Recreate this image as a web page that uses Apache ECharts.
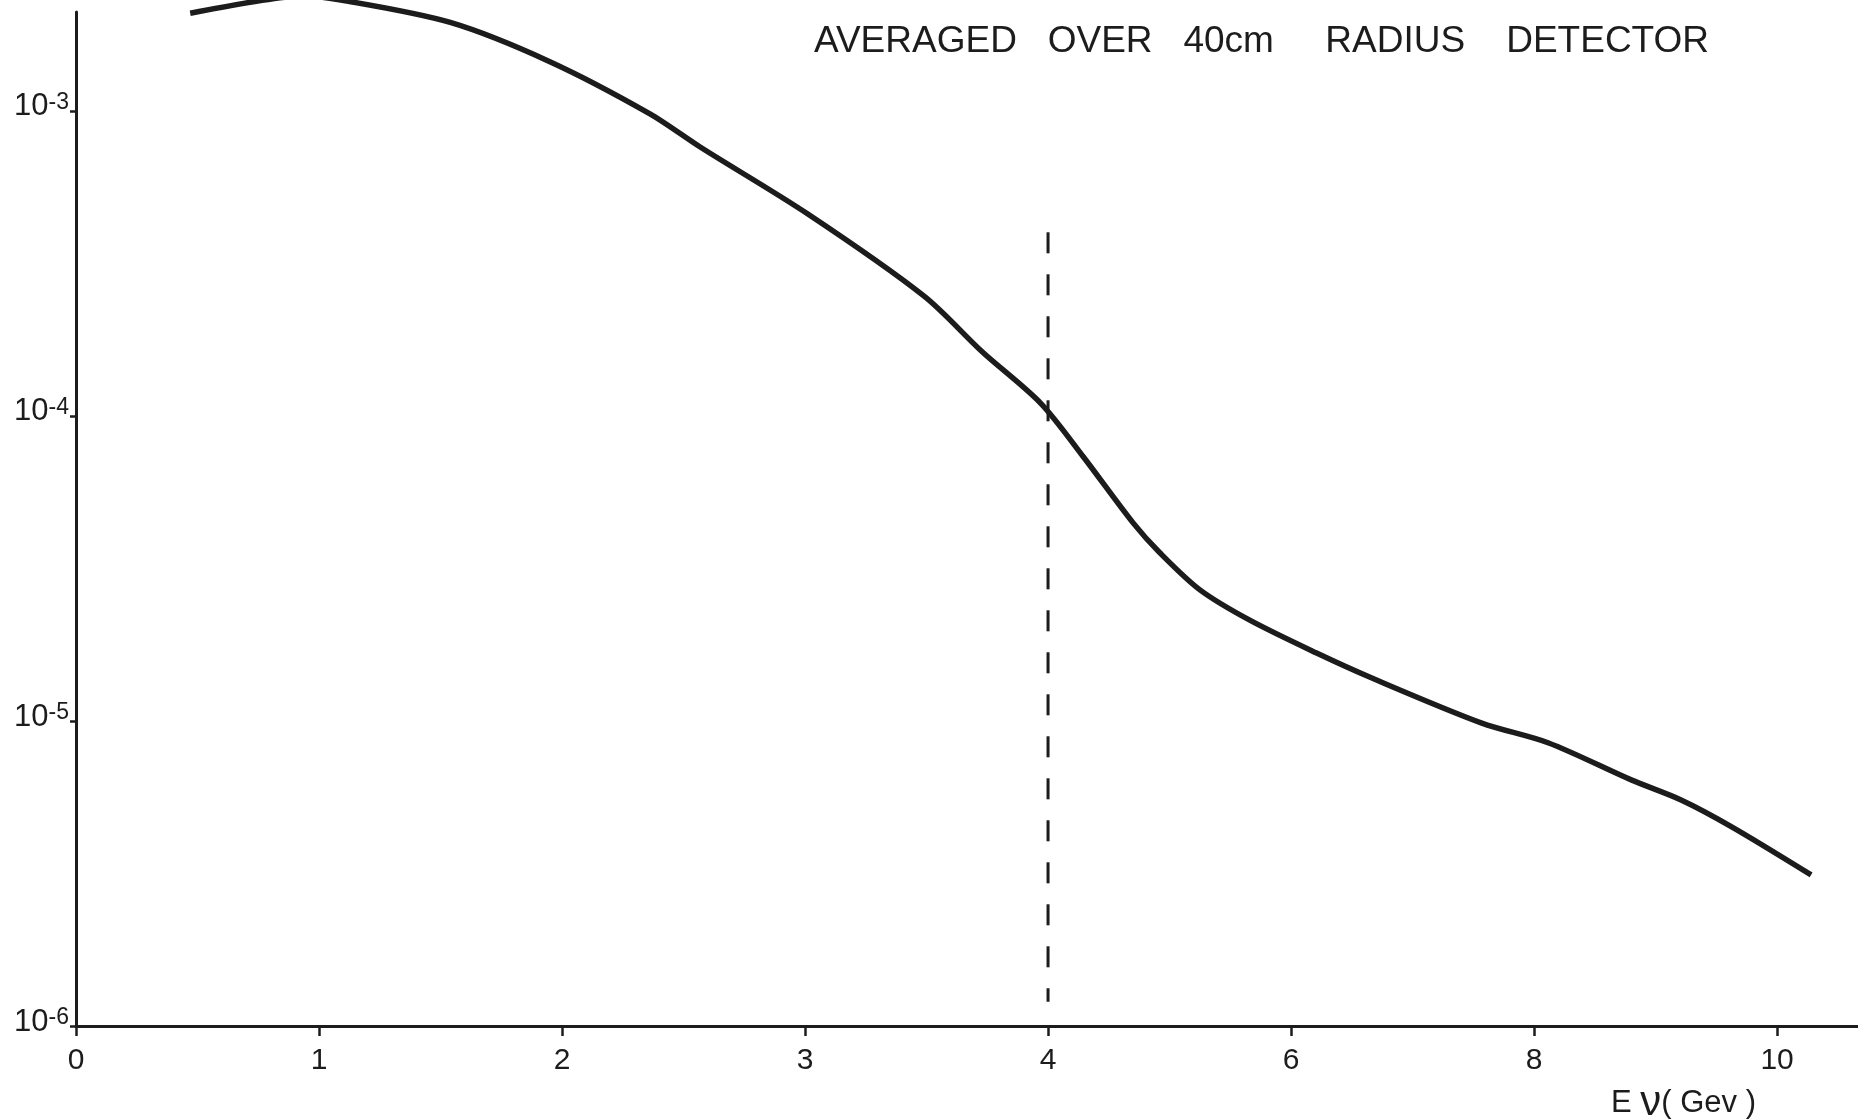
<!DOCTYPE html>
<html>
<head>
<meta charset="utf-8">
<title>Averaged over 40cm radius detector</title>
<script src="https://cdn.jsdelivr.net/npm/echarts@6/dist/echarts.min.js"></script>
<style>
  html, body { margin: 0; padding: 0; background: #fff; }
  #chart { width: 1858px; height: 1119px; }
</style>
</head>
<body>
<div id="chart"></div>
<script>
// Neutrino energy (GeV) and flux
const energy = [0.47, 0.76, 0.93, 1.09, 1.54, 1.95, 2.36, 2.57, 3.01, 3.49, 3.73, 3.97,
  4.29, 4.70, 4.92, 5.25, 5.66, 6.21, 6.67, 7.57, 8.12, 8.80, 9.21, 9.63, 10.28];
const flux = [2.09e-3, 2.30e-3, 2.38e-3, 2.31e-3, 1.95e-3, 1.45e-3, 9.8e-4, 7.6e-4, 4.6e-4, 2.47e-4, 1.62e-4, 1.10e-4,
  7.35e-5, 4.46e-5, 3.56e-5, 2.69e-5, 2.14e-5, 1.67e-5, 1.38e-5, 9.84e-6, 8.47e-6, 6.41e-6, 5.51e-6, 4.49e-6, 3.13e-6];

// dashed cut at 4 GeV
const cutEnergy = [4, 4];
const cutFlux = [4.0e-4, 1.2e-6];

// tick labels
const xTickLabels = [0, 1, 2, 3, 4, 6, 8, 10];
const yTickValues = [1e-6, 1e-5, 1e-4, 1e-3];

// the x scale doubles its step after 4 GeV: 0..4 by 1, then 4..10 by 2
function toAxis(e) {
  return e <= 4 ? e : 4 + (e - 4) / 2;
}

const font = "'Liberation Sans', Arial, sans-serif";
const ink = '#1c1c1c';

const chart = echarts.init(document.getElementById('chart'), null, { renderer: 'canvas' });

chart.setOption({
  animation: false,
  backgroundColor: '#fff',
  title: [
    {
      text: 'AVERAGED   OVER   40cm     RADIUS    DETECTOR',
      left: 814,
      top: 23,
      padding: 0,
      textStyle: { fontFamily: font, fontSize: 37, fontWeight: 'normal', color: ink }
    },
    {
      text: '{a|E }{n|ν}{a|( Gev )}',
      left: 1611,
      top: 1082,
      padding: 0,
      textStyle: {
        fontWeight: 'normal',
        rich: {
          a: { fontFamily: font, fontSize: 31, fontWeight: 'normal', color: ink },
          n: { fontFamily: font, fontSize: 42, fontWeight: 'normal', color: ink }
        }
      }
    }
  ],
  grid: { left: 76, right: 0, top: 12, bottom: 93 },
  xAxis: {
    type: 'value',
    min: 0,
    max: 7.333,
    splitLine: { show: false },
    axisLine: { onZero: false, lineStyle: { color: ink, width: 3 } },
    axisTick: {
      customValues: xTickLabels.map(toAxis),
      length: 10,
      lineStyle: { color: ink, width: 2.5 }
    },
    axisLabel: {
      customValues: xTickLabels.map(toAxis),
      formatter: v => String(v <= 4 ? Math.round(v) : Math.round(4 + (v - 4) * 2)),
      margin: 20,
      fontFamily: font,
      fontSize: 30,
      color: ink
    }
  },
  yAxis: {
    type: 'log',
    logBase: 10,
    min: 1e-6,
    max: 2.11e-3,
    splitLine: { show: false },
    axisLine: { lineStyle: { color: ink, width: 3 } },
    axisTick: {
      customValues: yTickValues,
      length: 6,
      lineStyle: { color: ink, width: 2.5 }
    },
    axisLabel: {
      customValues: yTickValues,
      margin: 7,
      padding: [0, 0, 8, 0],
      formatter: v => '{b|10}{s|-' + Math.round(-Math.log10(v)) + '}',
      rich: {
        b: { fontFamily: font, fontSize: 31, lineHeight: 31, color: ink, verticalAlign: 'bottom' },
        s: { fontFamily: font, fontSize: 23, lineHeight: 23, color: ink, verticalAlign: 'top', padding: [0, 0, 14, 0] }
      }
    }
  },
  series: [
    {
      name: 'flux',
      type: 'line',
      data: energy.map((e, i) => [toAxis(e), flux[i]]),
      smooth: 0.3,
      showSymbol: false,
      clip: false,
      lineStyle: { color: ink, width: 5.5 }
    },
    {
      name: 'cut',
      type: 'line',
      data: cutEnergy.map((e, i) => [toAxis(e), cutFlux[i]]),
      showSymbol: false,
      lineStyle: { color: ink, width: 3, type: [21, 21] }
    }
  ]
});
</script>
</body>
</html>
